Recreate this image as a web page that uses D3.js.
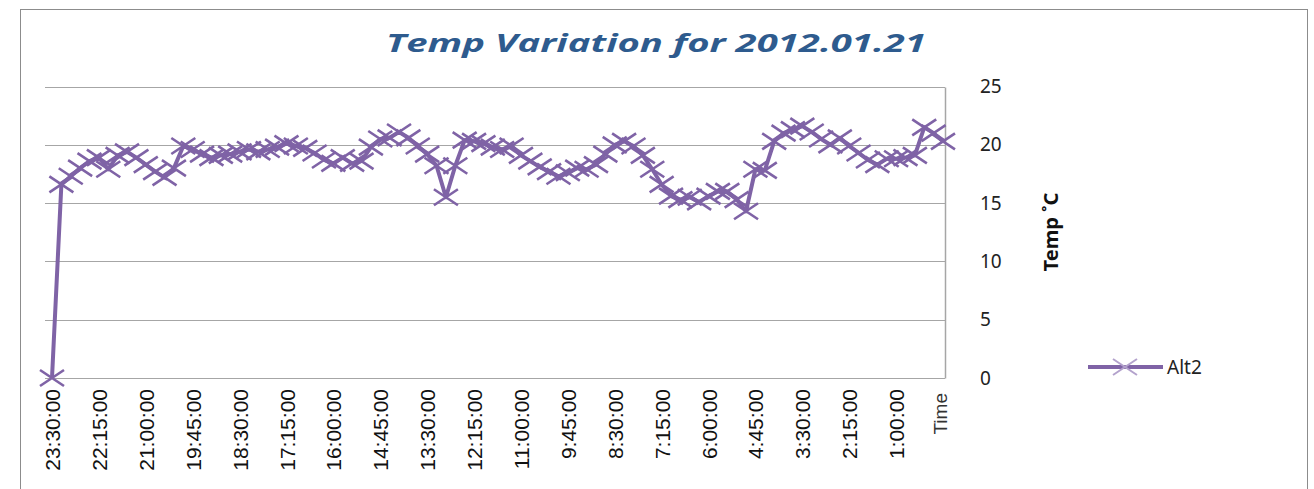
<!DOCTYPE html>
<html>
<head>
<meta charset="utf-8">
<script src="https://cdn.jsdelivr.net/npm/d3@7"></script>
<style>
  html, body { margin: 0; padding: 0; background: #ffffff; }
  svg { display: block; }
</style>
</head>
<body>
<div id="chart"></div>
<script>
// Readings every 15 minutes, listed from 23:30 backwards
const startMinutes = 23 * 60 + 30;
const stepMinutes = 15;
const alt2 = [
  0.0, 16.6, 17.3, 18.0, 18.6, 18.9, 17.9, 19.1, 19.4, 18.9,
  18.3, 17.7, 17.2, 18.0, 19.9, 19.6, 19.2, 18.9, 19.1, 19.2,
  19.4, 19.6, 19.4, 19.6, 19.8, 20.1, 19.9, 19.7, 19.3, 18.7,
  18.4, 18.9, 18.4, 18.6, 19.8, 20.5, 20.6, 21.1, 20.6, 19.9,
  19.2, 18.2, 15.5, 18.2, 20.4, 20.3, 20.1, 19.8, 19.6, 19.9,
  19.1, 18.6, 18.1, 17.7, 17.3, 17.6, 18.0, 17.9, 18.3, 19.2,
  20.0, 20.3, 19.9, 19.1, 17.9, 16.6, 15.6, 15.3, 15.5, 15.1,
  15.6, 16.0, 16.0, 15.3, 14.3, 17.9, 17.8, 20.3, 21.0, 21.3,
  21.6, 21.1, 20.5, 20.0, 20.6, 19.9, 19.3, 18.7, 18.3, 18.8,
  18.8, 18.9, 19.1, 21.5, 21.0, 20.3
];
const times = alt2.map((_, i) => {
  const m = ((startMinutes - i * stepMinutes) % 1440 + 1440) % 1440;
  return `${Math.floor(m / 60)}:${String(m % 60).padStart(2, "0")}:00`;
});
const labelEvery = 5;
// only full label intervals get a label
const labelledTimes = d3.range(0, alt2.length - labelEvery + 1, labelEvery);
const yTicks = [0, 5, 10, 15, 20, 25];
const seriesName = "Alt2";
const titleText = "Temp Variation for 2012.01.21";
const yTitle = "Temp \u02daC";
const xTitle = "Time";

const W = 1314, H = 489;
const purple = "#7f63a6";
const svg = d3.select("#chart").append("svg")
  .attr("width", W).attr("height", H);

// chart frame
svg.append("rect")
  .attr("x", 20.5).attr("y", 9.5)
  .attr("width", 1287).attr("height", 500)
  .attr("fill", "#fff").attr("stroke", "#8c8c8c").attr("stroke-width", 1);

const x = d3.scalePoint().domain(d3.range(alt2.length)).range([52, 943]);
const y = d3.scaleLinear().domain([0, 25]).range([378, 86.5]);
const plotLeft = 45, plotRight = 945;

// horizontal gridlines
svg.append("g").selectAll("line").data(yTicks).join("line")
  .attr("x1", plotLeft).attr("x2", plotRight)
  .attr("y1", d => Math.round(y(d)) + 0.5).attr("y2", d => Math.round(y(d)) + 0.5)
  .attr("stroke", "#a6a6a6").attr("stroke-width", 1.2);

// right-hand plot border
svg.append("line")
  .attr("x1", plotRight + 0.5).attr("x2", plotRight + 0.5)
  .attr("y1", Math.round(y(25)) + 0.5).attr("y2", Math.round(y(0)) + 0.5)
  .attr("stroke", "#a6a6a6").attr("stroke-width", 1.5);

// value axis on the right
const yAxis = svg.append("g")
  .attr("transform", "translate(980,0)")
  .call(d3.axisRight(y).tickValues(yTicks).tickSize(0).tickPadding(0));
yAxis.select(".domain").remove();
yAxis.selectAll("text")
  .attr("font-family", "'Noto Sans', sans-serif")
  .attr("font-size", 19).attr("fill", "#222").attr("dy", "0.32em");

// category axis
const xAxis = svg.append("g")
  .attr("transform", "translate(0,378)")
  .call(d3.axisBottom(x)
    .tickValues(labelledTimes)
    .tickFormat(i => times[i])
    .tickSize(0).tickPadding(0));
xAxis.select(".domain").remove();
xAxis.selectAll("text")
  .attr("font-family", "'Liberation Sans', Arial, sans-serif")
  .attr("font-size", 21).attr("fill", "#111")
  .attr("transform", "rotate(-90)")
  .attr("text-anchor", "end")
  .attr("x", -11).attr("y", 0).attr("dy", "0.36em");

svg.append("text")
  .attr("transform", "translate(940,393) rotate(-90)")
  .attr("text-anchor", "end").attr("dy", "0.36em")
  .attr("font-family", "'Liberation Sans', Arial, sans-serif")
  .attr("font-size", 19).attr("fill", "#333")
  .text(xTitle);

// series line
const line = d3.line().x((d, i) => x(i)).y(d => y(d));
svg.append("path").datum(alt2)
  .attr("d", line).attr("fill", "none")
  .attr("stroke", purple).attr("stroke-width", 4)
  .attr("stroke-linejoin", "round");

// X-shaped markers
const mw = 12, mh = 8;
const crossPath = `M${-mw},${-mh}L${mw},${mh}M${-mw},${mh}L${mw},${-mh}`;
svg.append("g").selectAll("path").data(alt2).join("path")
  .attr("transform", (d, i) => `translate(${x(i)},${y(d)})`)
  .attr("d", crossPath)
  .attr("stroke", purple).attr("stroke-width", 2.6).attr("fill", "none");

// title
svg.append("text")
  .attr("x", 656).attr("y", 52)
  .attr("text-anchor", "middle")
  .attr("font-family", "'Open Sans', 'Noto Sans', sans-serif")
  .attr("font-style", "italic").attr("font-weight", "bold")
  .attr("font-size", 25).attr("fill", "#2e5b8e")
  .attr("textLength", 540).attr("lengthAdjust", "spacingAndGlyphs")
  .text(titleText);

// value axis title
svg.append("text")
  .attr("transform", "translate(1051,232) rotate(-90)")
  .attr("text-anchor", "middle").attr("dy", "0.35em")
  .attr("font-family", "'Noto Sans', sans-serif")
  .attr("font-weight", "bold").attr("font-size", 19).attr("fill", "#111")
  .attr("textLength", 79).attr("lengthAdjust", "spacingAndGlyphs")
  .text(yTitle);

// legend
const lg = svg.append("g").attr("transform", "translate(1088,367)");
lg.append("line").attr("x1", 0).attr("x2", 75).attr("y1", 0).attr("y2", 0)
  .attr("stroke", purple).attr("stroke-width", 4);
lg.append("path").attr("transform", "translate(37,0)")
  .attr("d", crossPath).attr("stroke", "#b3a2cc").attr("stroke-width", 2).attr("fill", "none");
lg.append("text").attr("x", 79).attr("y", 0).attr("dy", "0.35em")
  .attr("font-family", "'Noto Sans', sans-serif").attr("font-size", 19).attr("fill", "#222")
  .text(seriesName);
</script>
</body>
</html>
